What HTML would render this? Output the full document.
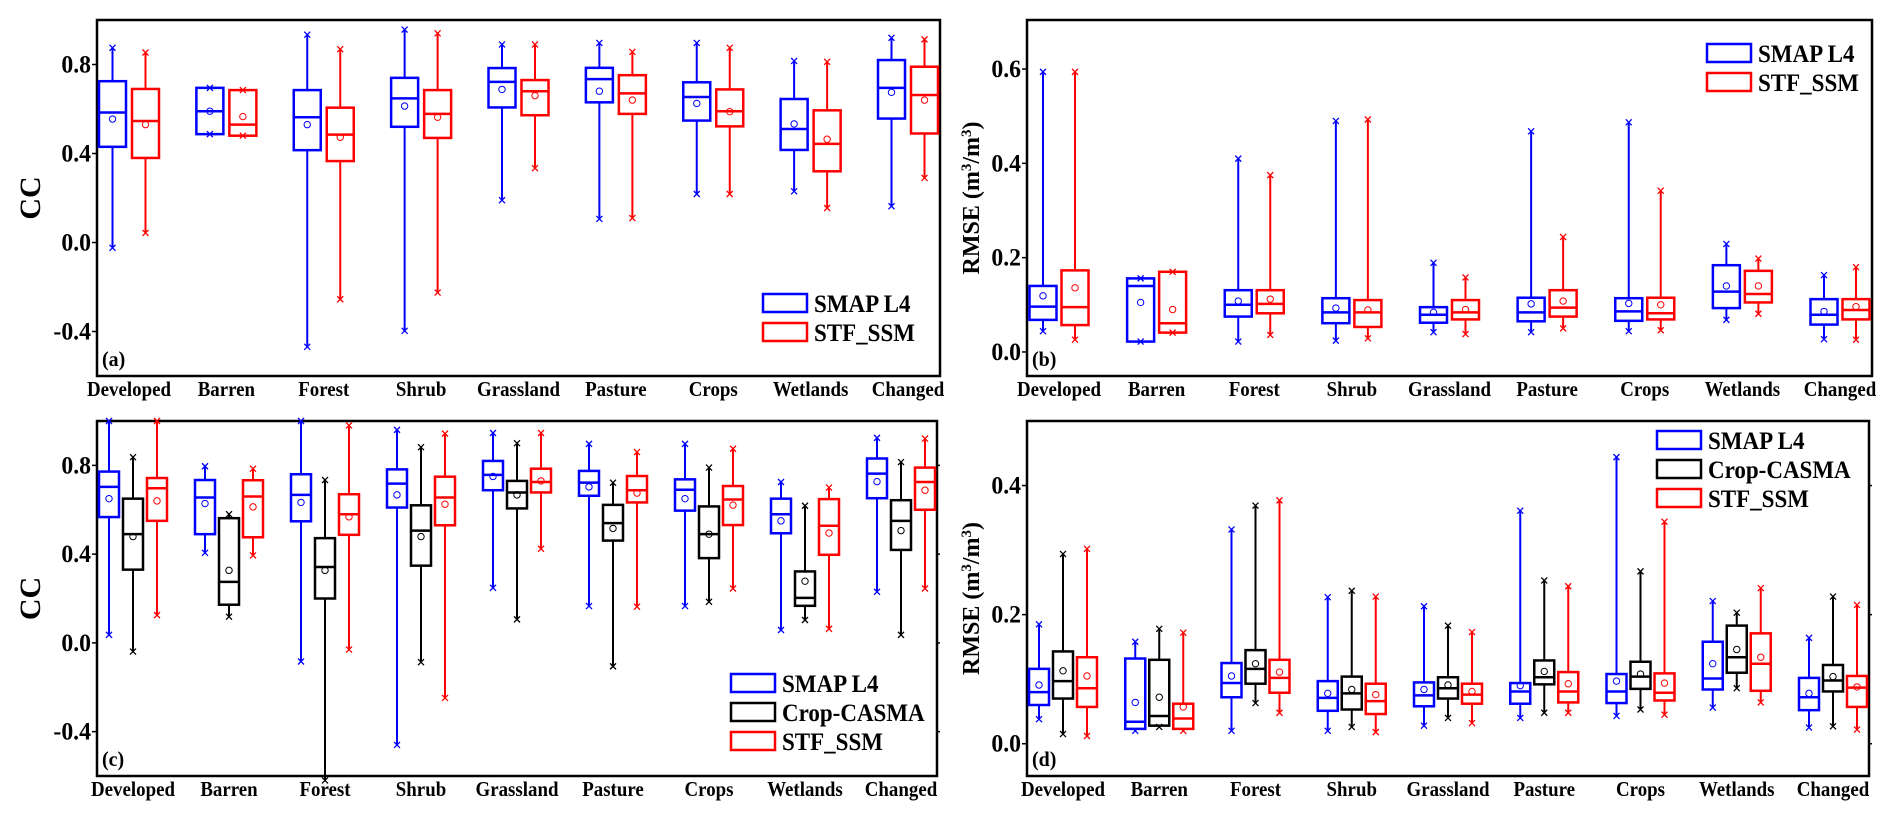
<!DOCTYPE html>
<html><head><meta charset="utf-8"><style>
html,body{margin:0;padding:0;background:#fff;}
svg{display:block;font-family:"Liberation Serif",serif;font-weight:bold;}
</style></head><body>
<svg id="fig" width="1892" height="819" viewBox="0 0 1892 819" xmlns="http://www.w3.org/2000/svg"></svg>
<script>
const categories=["Developed","Barren","Forest","Shrub","Grassland","Pasture","Crops","Wetlands","Changed"];
// [min,q1,median,q3,max,mean] per category
const ccA_smap=[[-0.024,0.43,0.584,0.725,0.875,0.555],[0.487,0.487,0.59,0.695,0.695,0.59],[-0.469,0.415,0.563,0.685,0.934,0.53],[-0.397,0.52,0.648,0.74,0.957,0.613],[0.19,0.607,0.722,0.784,0.89,0.688],[0.106,0.63,0.734,0.785,0.897,0.68],[0.218,0.548,0.654,0.72,0.897,0.625],[0.23,0.416,0.51,0.645,0.816,0.533],[0.163,0.557,0.695,0.82,0.92,0.675]];
const ccA_stf=[[0.043,0.38,0.546,0.69,0.854,0.53],[0.48,0.48,0.53,0.685,0.685,0.566],[-0.255,0.366,0.485,0.606,0.869,0.473],[-0.225,0.47,0.578,0.685,0.94,0.563],[0.334,0.572,0.68,0.73,0.89,0.66],[0.11,0.578,0.67,0.752,0.857,0.64],[0.218,0.522,0.59,0.688,0.875,0.588],[0.155,0.32,0.443,0.594,0.812,0.464],[0.29,0.49,0.663,0.79,0.913,0.64]];
const rmB_smap=[[0.044,0.068,0.096,0.14,0.594,0.119],[0.022,0.022,0.14,0.156,0.156,0.105],[0.022,0.075,0.1,0.131,0.41,0.108],[0.024,0.061,0.084,0.114,0.49,0.093],[0.042,0.062,0.079,0.095,0.189,0.084],[0.042,0.065,0.084,0.115,0.468,0.102],[0.044,0.066,0.086,0.114,0.487,0.103],[0.068,0.093,0.128,0.184,0.229,0.14],[0.027,0.058,0.079,0.112,0.163,0.086]];
const rmB_stf=[[0.026,0.057,0.095,0.173,0.594,0.136],[0.041,0.041,0.061,0.17,0.17,0.09],[0.036,0.082,0.102,0.131,0.375,0.112],[0.029,0.053,0.084,0.11,0.493,0.089],[0.038,0.069,0.084,0.11,0.158,0.09],[0.05,0.075,0.094,0.131,0.244,0.108],[0.046,0.069,0.082,0.115,0.342,0.1],[0.081,0.105,0.123,0.172,0.198,0.14],[0.026,0.069,0.089,0.112,0.18,0.096]];
const ccC_smap=[[0.036,0.567,0.703,0.772,1.0,0.65],[0.406,0.49,0.655,0.734,0.796,0.628],[-0.084,0.548,0.667,0.76,1.0,0.633],[-0.46,0.61,0.718,0.782,0.96,0.667],[0.248,0.688,0.757,0.82,0.946,0.75],[0.166,0.663,0.722,0.775,0.897,0.703],[0.166,0.596,0.69,0.737,0.897,0.65],[0.058,0.494,0.58,0.65,0.725,0.55],[0.23,0.652,0.763,0.831,0.924,0.727]];
const ccC_casma=[[-0.039,0.33,0.49,0.65,0.837,0.479],[0.118,0.172,0.275,0.562,0.58,0.327],[-0.62,0.2,0.342,0.472,0.734,0.327],[-0.087,0.348,0.506,0.62,0.882,0.479],[0.106,0.606,0.678,0.73,0.9,0.667],[-0.106,0.461,0.54,0.622,0.722,0.516],[0.185,0.382,0.49,0.615,0.79,0.49],[0.103,0.167,0.203,0.322,0.618,0.278],[0.036,0.419,0.55,0.643,0.815,0.506]];
const ccC_stf=[[0.125,0.55,0.697,0.743,1.0,0.64],[0.394,0.476,0.66,0.733,0.785,0.613],[-0.03,0.487,0.58,0.67,0.98,0.568],[-0.248,0.53,0.655,0.749,0.943,0.625],[0.424,0.678,0.725,0.785,0.946,0.73],[0.163,0.633,0.688,0.752,0.86,0.675],[0.245,0.531,0.646,0.707,0.875,0.621],[0.063,0.397,0.528,0.648,0.7,0.495],[0.245,0.6,0.725,0.79,0.921,0.688]];
const rmD_smap=[[0.038,0.06,0.08,0.116,0.185,0.091],[0.02,0.023,0.034,0.132,0.158,0.064],[0.02,0.072,0.094,0.125,0.332,0.105],[0.02,0.051,0.071,0.097,0.227,0.078],[0.028,0.058,0.075,0.095,0.213,0.084],[0.04,0.062,0.081,0.094,0.361,0.09],[0.043,0.063,0.081,0.108,0.444,0.097],[0.056,0.084,0.101,0.158,0.221,0.124],[0.025,0.052,0.072,0.102,0.164,0.078]];
const rmD_casma=[[0.015,0.07,0.097,0.143,0.294,0.113],[0.026,0.028,0.043,0.13,0.178,0.072],[0.063,0.093,0.116,0.145,0.369,0.124],[0.026,0.053,0.078,0.104,0.237,0.084],[0.04,0.07,0.086,0.103,0.183,0.091],[0.048,0.092,0.103,0.129,0.253,0.112],[0.053,0.085,0.104,0.127,0.267,0.108],[0.086,0.11,0.134,0.183,0.203,0.146],[0.027,0.081,0.098,0.122,0.228,0.104]];
const rmD_stf=[[0.012,0.057,0.086,0.134,0.302,0.105],[0.02,0.023,0.039,0.062,0.172,0.057],[0.048,0.079,0.102,0.13,0.377,0.111],[0.018,0.046,0.066,0.093,0.228,0.076],[0.032,0.062,0.076,0.093,0.173,0.081],[0.048,0.064,0.081,0.111,0.244,0.093],[0.045,0.067,0.079,0.109,0.344,0.094],[0.064,0.082,0.124,0.171,0.241,0.134],[0.022,0.057,0.087,0.105,0.215,0.088]];
const ccTicks=["0.8","0.4","0.0","-0.4"];
const rmBTicks=["0.6","0.4","0.2","0.0"];
const rmDTicks=["0.4","0.2","0.0"];

const NS="http://www.w3.org/2000/svg";
const svg=document.getElementById('fig');
function mk(tag,attrs,parent){const e=document.createElementNS(NS,tag);for(const k in attrs)e.setAttribute(k,attrs[k]);(parent||svg).appendChild(e);return e;}
function txt(parent,x,y,str,size,sx,anchor){
  const t=mk('text',{x:0,y:0,'font-size':size,'text-anchor':anchor||'start',transform:`translate(${x},${y}) scale(${sx},1)`},parent);
  t.textContent=str;return t;
}

function panel(o){
  const g=mk('g',{});
  
  
  const y=v=>o.y1-(v-o.vmin)/(o.vmax-o.vmin)*(o.y1-o.y0);
  const W=o.x1-o.x0;
  const cx=i=>o.x0+o.pad+i*(W-2*o.pad)/(categories.length-1);
  const frame=mk('rect',{x:o.x0,y:o.y0,width:W,height:o.y1-o.y0,fill:'none',stroke:'#000','stroke-width':2.5},g);
  
  
  o.ticks.forEach(t=>{
    const v=parseFloat(t),yy=y(v);
    const tl=mk('line',{x1:o.x0-5,x2:o.x0,y1:yy,y2:yy,stroke:'#000','stroke-width':1.5},g);
    
    
    if(o.rightTicks){const rt=mk('line',{x1:o.x1,x2:o.x1+3,y1:yy,y2:yy,stroke:'#000','stroke-width':1.5},g);
      
      }
    const tx=txt(g,o.x0-6,yy+8,t,25,0.95,'end');
    
    
  });
  categories.forEach((c,i)=>{
    const tx=txt(g,cx(i),o.y1+20,c,21,0.9,'middle');
    
    
  });
  const yt=mk('text',{x:0,y:0,'text-anchor':'middle','font-size':o.ytSize,transform:`translate(${o.ytX},${(o.y0+o.y1)/2}) rotate(-90)`},g);
  yt.innerHTML=o.ytitle;
  
  
  const pl=txt(g,o.x0+5,o.y1-10,o.label,21,0.95,'start');
  
  
  const n=o.series.length;
  o.series.forEach((s,si)=>{
    const off=(si-(n-1)/2)*o.sep;
    s.data.forEach((d,i)=>{
      const x=cx(i)+off,hw=o.bw/2;
      const bg=mk('g',{stroke:s.color,fill:'none'},g);
      
      
      mk('line',{x1:x,x2:x,y1:y(d[0]),y2:y(d[1]),'stroke-width':2},bg);
      mk('line',{x1:x,x2:x,y1:y(d[3]),y2:y(d[4]),'stroke-width':2},bg);
      mk('rect',{x:x-hw,y:y(d[3]),width:o.bw,height:Math.max(0.5,y(d[1])-y(d[3])),'stroke-width':2.5},bg);
      mk('line',{x1:x-hw,x2:x+hw,y1:y(d[2]),y2:y(d[2]),'stroke-width':2.5},bg);
      mk('circle',{cx:x,cy:y(d[5]),r:3.2,'stroke-width':1},bg);
      [d[0],d[4]].forEach(v=>{const yy=y(v);
        mk('path',{d:`M${x-3},${yy-3}L${x+3},${yy+3}M${x+3},${yy-3}L${x-3},${yy+3}`,'stroke-width':1.3},bg);});
    });
  });
  o.series.forEach((s,si)=>{
    const ly=o.legY+si*o.legStep;
    const lg=mk('g',{},g);
    
    
    mk('rect',{x:o.legX,y:ly-9,width:44,height:18,fill:'none',stroke:s.color,'stroke-width':2.5},lg);
    txt(lg,o.legX+51,ly+9,s.label,25,0.92,'start');
  });
}
const S=(k,l,c,d)=>({key:k,label:l,color:c,data:d});
panel({name:'panel-a-cc',x0:97,x1:940,y0:20,y1:376,vmin:-0.6,vmax:1.0,pad:32,bw:27,sep:33,ticks:ccTicks,ytitle:'CC',ytSize:30,ytX:40,label:'(a)',legX:763,legY:303,legStep:29,
  series:[S('smap-l4','SMAP L4','#0000ff',ccA_smap),S('stf-ssm','STF_SSM','#ff0000',ccA_stf)]});
panel({name:'panel-b-rmse',x0:1027,x1:1872,y0:20,y1:376,vmin:-0.051,vmax:0.704,pad:32,bw:27,sep:32,ticks:rmBTicks,ytitle:'RMSE (m<tspan baseline-shift="super" font-size="15">3</tspan>/m<tspan baseline-shift="super" font-size="15">3</tspan>)',ytSize:24,ytX:979,label:'(b)',legX:1707,legY:53,legStep:29,
  series:[S('smap-l4','SMAP L4','#0000ff',rmB_smap),S('stf-ssm','STF_SSM','#ff0000',rmB_stf)]});
panel({name:'panel-c-cc',x0:97,x1:937,y0:421,y1:776,vmin:-0.6,vmax:1.0,pad:36,bw:20,sep:24,ticks:ccTicks,ytitle:'CC',ytSize:30,ytX:40,label:'(c)',rightTicks:true,legX:731,legY:683,legStep:29,
  series:[S('smap-l4','SMAP L4','#0000ff',ccC_smap),S('crop-casma','Crop-CASMA','#000000',ccC_casma),S('stf-ssm','STF_SSM','#ff0000',ccC_stf)]});
panel({name:'panel-d-rmse',x0:1027,x1:1869,y0:421,y1:776,vmin:-0.05,vmax:0.5,pad:36,bw:20,sep:24,ticks:rmDTicks,ytitle:'RMSE (m<tspan baseline-shift="super" font-size="15">3</tspan>/m<tspan baseline-shift="super" font-size="15">3</tspan>)',ytSize:24,ytX:979,label:'(d)',rightTicks:true,legX:1657,legY:440,legStep:29,
  series:[S('smap-l4','SMAP L4','#0000ff',rmD_smap),S('crop-casma','Crop-CASMA','#000000',rmD_casma),S('stf-ssm','STF_SSM','#ff0000',rmD_stf)]});
</script>
</body></html>
